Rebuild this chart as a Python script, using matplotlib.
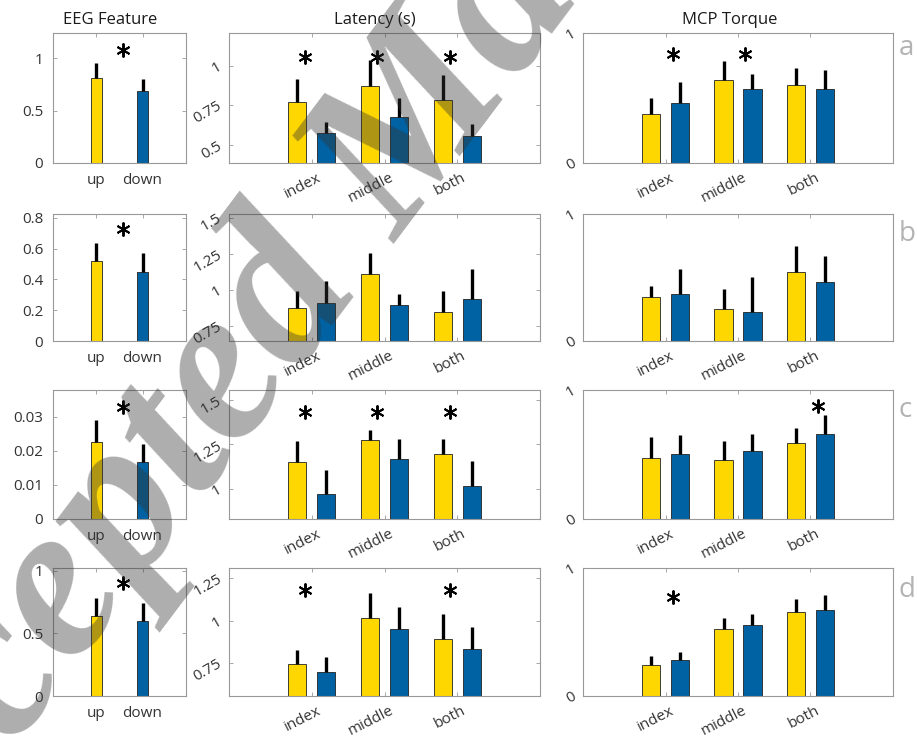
import numpy as np
import matplotlib.pyplot as plt
from matplotlib.transforms import ScaledTranslation

plt.rcParams['font.family'] = ['Open Sans', 'DejaVu Sans']

YELLOW = '#FFD700'
BLUE = '#0062A3'
TXT = '#333333'
SPINE = '#999999'

# ---- data ----
fingers = ['index', 'middle', 'both']
directions = ['up', 'down']
row_tags = ['a', 'b', 'c', 'd']

# EEG feature, one value per row
eeg_up = [0.81, 0.52, 0.0226, 0.64]
eeg_up_err = [0.14, 0.12, 0.0064, 0.14]
eeg_down = [0.69, 0.45, 0.0167, 0.60]
eeg_down_err = [0.11, 0.12, 0.0053, 0.145]
eeg_star = [1.08, 0.73, 0.0328, 0.90]

# latency (s), rows x fingers
lat_up = [[0.769, 0.872, 0.784], [0.873, 1.11, 0.85],
          [1.15, 1.275, 1.194], [0.748, 1.014, 0.89]]
lat_up_err = [[0.145, 0.162, 0.155], [0.122, 0.149, 0.14],
              [0.12, 0.058, 0.086], [0.081, 0.146, 0.148]]
lat_down = [[0.576, 0.674, 0.556], [0.908, 0.897, 0.935],
            [0.972, 1.167, 1.017], [0.701, 0.951, 0.831]]
lat_down_err = [[0.069, 0.124, 0.076], [0.156, 0.076, 0.207],
                [0.135, 0.114, 0.14], [0.085, 0.131, 0.134]]
lat_star = [[1.057, 1.057, 1.057], [None, None, None],
            [1.43, 1.43, 1.43], [1.177, None, 1.177]]

# MCP torque, rows x fingers
tq_up = [[0.376, 0.639, 0.6], [0.349, 0.251, 0.545],
         [0.473, 0.46, 0.587], [0.244, 0.522, 0.656]]
tq_up_err = [[0.126, 0.147, 0.13], [0.088, 0.155, 0.201],
             [0.161, 0.145, 0.122], [0.066, 0.084, 0.1]]
tq_down = [[0.464, 0.57, 0.567], [0.374, 0.23, 0.461],
           [0.501, 0.525, 0.662], [0.283, 0.554, 0.675]]
tq_down_err = [[0.157, 0.118, 0.147], [0.189, 0.276, 0.206],
               [0.154, 0.132, 0.148], [0.063, 0.084, 0.115]]
tq_star = [[0.838, 0.838, None], [None, None, None],
           [None, None, 0.878], [0.77, None, None]]

# axis limits / ticks
eeg_ylim = [1.24, 0.826, 0.0378, 1.02]
eeg_yticks = [[0, 0.5, 1], [0, 0.2, 0.4, 0.6, 0.8], [0, 0.01, 0.02, 0.03], [0, 0.5, 1]]
eeg_ylabels = [['0', '0.5', '1'], ['0', '0.2', '0.4', '0.6', '0.8'],
               ['0', '0.01', '0.02', '0.03'], ['0', '0.5', '1']]
lat_ylim = [(0.387, 1.206), (0.647, 1.526), (0.831, 1.556), (0.558, 1.309)]
lat_yticks = [[0.5, 0.75, 1], [0.75, 1, 1.25, 1.5], [1, 1.25, 1.5], [0.75, 1, 1.25]]
lat_ylabels = [['0.5', '0.75', '1'], ['0.75', '1', '1.25', '1.5'],
               ['1', '1.25', '1.5'], ['0.75', '1', '1.25']]

W, H = 917, 742
fig = plt.figure(figsize=(W / 100, H / 100), dpi=100)

rows_px = [(33, 163), (214, 341), (390, 519), (568, 696)]
cols_px = [(53, 186), (229, 540), (583, 893)]


def px_axes(c, r):
    x0, x1 = cols_px[c]
    y0, y1 = rows_px[r]
    return fig.add_axes([x0 / W, 1 - y1 / H, (x1 - x0) / W, (y1 - y0) / H])


def style(ax):
    for s in ax.spines.values():
        s.set_color(SPINE)
        s.set_linewidth(0.8)
    ax.tick_params(direction='in', top=True, right=True, length=3,
                   color=SPINE, labelcolor=TXT, labelsize=11, width=0.6)


def shift(labels, dx, dy):
    for lab in labels:
        lab.set_transform(lab.get_transform() + ScaledTranslation(dx / 100, dy / 100, fig.dpi_scale_trans))


def star(ax, x, y):
    ax.plot(x, y, ls='none', marker=(6, 2, 0), ms=10, mew=1.4, color='k', zorder=5)


bw = 0.25
for r in range(4):
    # EEG feature
    ax = px_axes(0, r)
    style(ax)
    xs = np.array([1, 2])
    vals = [eeg_up[r], eeg_down[r]]
    errs = [eeg_up_err[r], eeg_down_err[r]]
    ax.bar(xs, vals, bw, color=[YELLOW, BLUE], edgecolor='#222222', lw=0.6, zorder=2)
    ax.vlines(xs, vals, np.add(vals, errs), color='k', lw=2.4, zorder=3)
    star(ax, 1.58, eeg_star[r])
    ax.set_xlim(0.055, 2.945)
    ax.set_ylim(0, eeg_ylim[r])
    ax.set_xticks(xs)
    ax.set_xticklabels(directions)
    ax.set_yticks(eeg_yticks[r])
    ax.set_yticklabels(eeg_ylabels[r])
    ax.tick_params(axis='y', pad=7)
    ax.tick_params(axis='x', pad=7)

    # latency and torque
    for c, (up, uerr, dn, derr, st, soff) in enumerate(
            [(lat_up, lat_up_err, lat_down, lat_down_err, lat_star, -0.1),
             (tq_up, tq_up_err, tq_down, tq_down_err, tq_star, 0.1)], start=1):
        ax = px_axes(c, r)
        style(ax)
        x = np.arange(1, 4)
        ax.bar(x - 0.2, up[r], bw, color=YELLOW, edgecolor='#222222', lw=0.6, zorder=2)
        ax.bar(x + 0.2, dn[r], bw, color=BLUE, edgecolor='#222222', lw=0.6, zorder=2)
        ax.vlines(x - 0.2, up[r], np.add(up[r], uerr[r]), color='k', lw=2.4, zorder=3)
        ax.vlines(x + 0.2, dn[r], np.add(dn[r], derr[r]), color='k', lw=2.4, zorder=3)
        for i, s in enumerate(st[r]):
            if s is not None:
                star(ax, x[i] + soff, s)
        ax.set_xlim(-0.14, 4.14)
        if c == 1:
            ax.set_ylim(*lat_ylim[r])
            ax.set_yticks(lat_yticks[r])
            ax.set_yticklabels(lat_ylabels[r])
        else:
            ax.set_ylim(0, 1)
            ax.set_yticks([0, 1])
            ax.set_yticklabels(['0', '1'])
        ax.set_xticks(x)
        ax.set_xticklabels(fingers, rotation=27, ha='right', va='center',
                           rotation_mode='anchor')
        shift(ax.get_xticklabels(), 8, -9)
        for lab in ax.get_yticklabels():
            lab.set_rotation(30)
            lab.set_rotation_mode('anchor')
            lab.set_ha('right')
            lab.set_va('center')
        ax.tick_params(axis='y', pad=6)

    fig.text(899 / W, 1 - [55, 241, 417, 597][r] / H, row_tags[r], fontsize=20,
             color='#b3b3b3', ha='left', va='baseline')

fig.text(110 / W, 1 - 20.5 / H, 'EEG Feature', ha='center', va='center', fontsize=12, color='#1a1a1a')
fig.text(375 / W, 1 - 20.5 / H, 'Latency (s)', ha='center', va='center', fontsize=12, color='#1a1a1a')
fig.text(730 / W, 1 - 20.5 / H, 'MCP Torque', ha='center', va='center', fontsize=12, color='#1a1a1a')

# watermark
fig.text(-130 / W, 1 - 955 / H, 'Accepted Manuscript', rotation=53, rotation_mode='anchor',
         ha='left', va='baseline', fontsize=160, family='Liberation Serif', style='italic',
         weight='bold', color='#333333', alpha=0.4, zorder=10)

fig.savefig('out.png', dpi=100)
